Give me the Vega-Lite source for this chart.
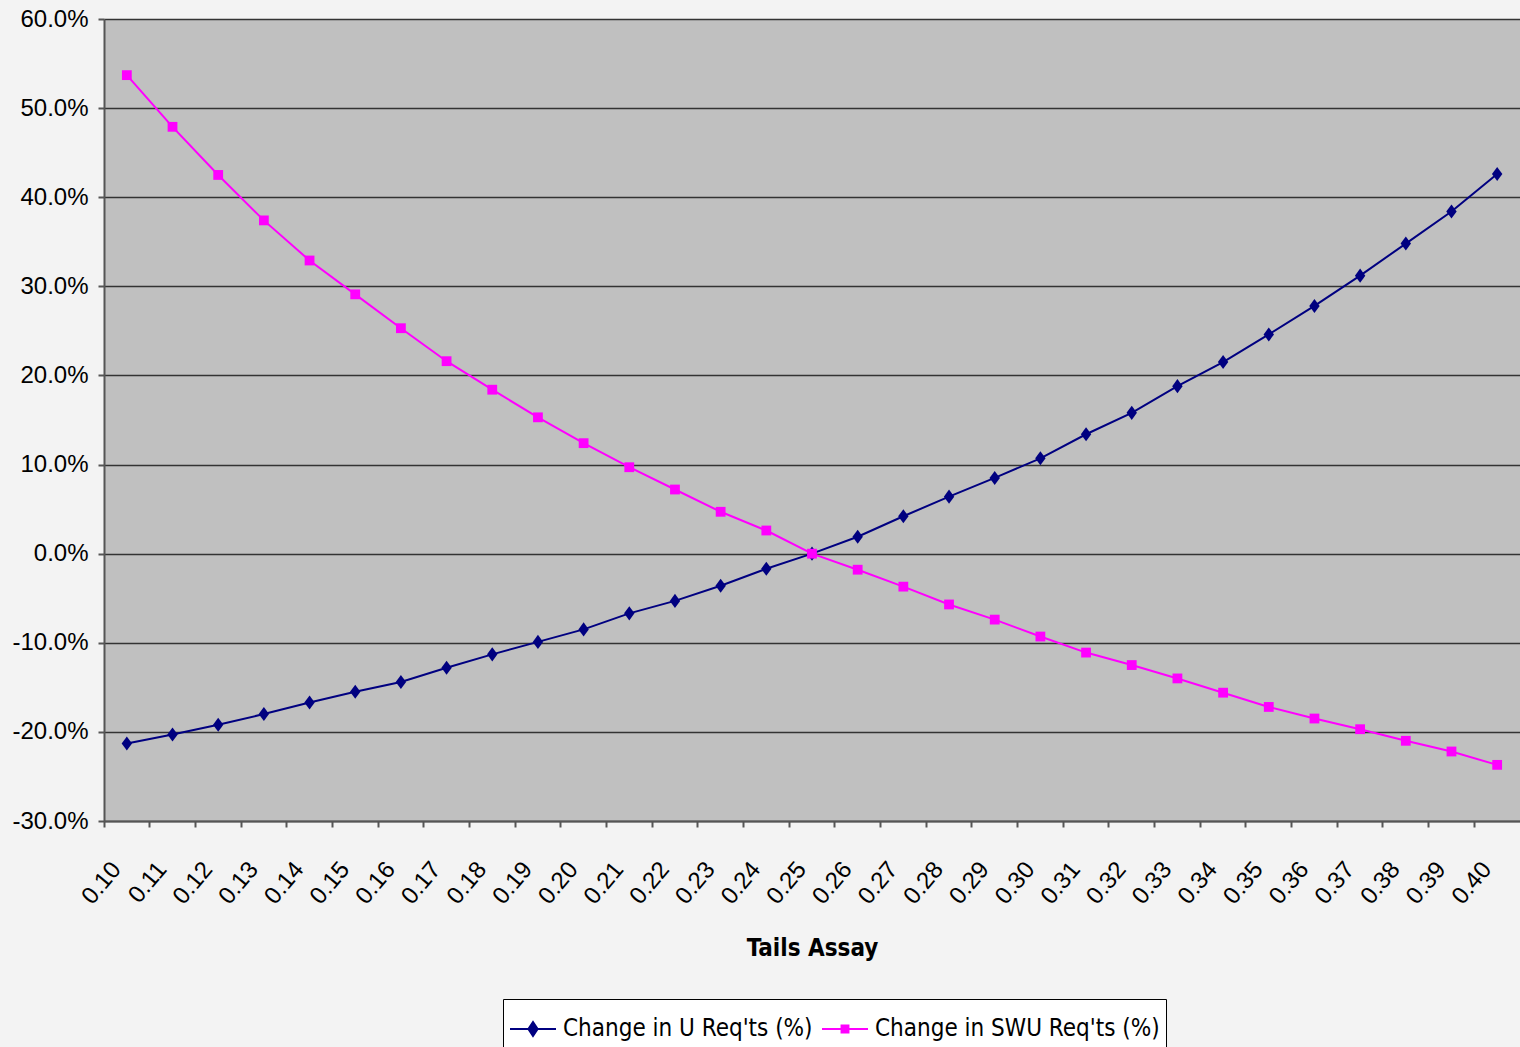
{
  "$schema": "https://vega.github.io/schema/vega-lite/v6.json",
  "width": 1416,
  "height": 802,
  "autosize": {"type": "none"},
  "padding": {"left": 104, "top": 19, "right": 0, "bottom": 226},
  "background": "#F3F3F3",
  "config": {
    "view": {"fill": "#C0C0C0", "stroke": null},
    "font": "Liberation Sans"
  },
  "data": {
    "values": [
      {"tails": "0.10", "series": "Change in U Req'ts (%)", "v": -0.213},
      {"tails": "0.11", "series": "Change in U Req'ts (%)", "v": -0.203},
      {"tails": "0.12", "series": "Change in U Req'ts (%)", "v": -0.192},
      {"tails": "0.13", "series": "Change in U Req'ts (%)", "v": -0.180},
      {"tails": "0.14", "series": "Change in U Req'ts (%)", "v": -0.167},
      {"tails": "0.15", "series": "Change in U Req'ts (%)", "v": -0.155},
      {"tails": "0.16", "series": "Change in U Req'ts (%)", "v": -0.144},
      {"tails": "0.17", "series": "Change in U Req'ts (%)", "v": -0.128},
      {"tails": "0.18", "series": "Change in U Req'ts (%)", "v": -0.113},
      {"tails": "0.19", "series": "Change in U Req'ts (%)", "v": -0.099},
      {"tails": "0.20", "series": "Change in U Req'ts (%)", "v": -0.085},
      {"tails": "0.21", "series": "Change in U Req'ts (%)", "v": -0.067},
      {"tails": "0.22", "series": "Change in U Req'ts (%)", "v": -0.053},
      {"tails": "0.23", "series": "Change in U Req'ts (%)", "v": -0.036},
      {"tails": "0.24", "series": "Change in U Req'ts (%)", "v": -0.017},
      {"tails": "0.25", "series": "Change in U Req'ts (%)", "v": 0.0},
      {"tails": "0.26", "series": "Change in U Req'ts (%)", "v": 0.019},
      {"tails": "0.27", "series": "Change in U Req'ts (%)", "v": 0.042},
      {"tails": "0.28", "series": "Change in U Req'ts (%)", "v": 0.064},
      {"tails": "0.29", "series": "Change in U Req'ts (%)", "v": 0.085},
      {"tails": "0.30", "series": "Change in U Req'ts (%)", "v": 0.107},
      {"tails": "0.31", "series": "Change in U Req'ts (%)", "v": 0.134},
      {"tails": "0.32", "series": "Change in U Req'ts (%)", "v": 0.158},
      {"tails": "0.33", "series": "Change in U Req'ts (%)", "v": 0.188},
      {"tails": "0.34", "series": "Change in U Req'ts (%)", "v": 0.215},
      {"tails": "0.35", "series": "Change in U Req'ts (%)", "v": 0.246},
      {"tails": "0.36", "series": "Change in U Req'ts (%)", "v": 0.278},
      {"tails": "0.37", "series": "Change in U Req'ts (%)", "v": 0.312},
      {"tails": "0.38", "series": "Change in U Req'ts (%)", "v": 0.348},
      {"tails": "0.39", "series": "Change in U Req'ts (%)", "v": 0.384},
      {"tails": "0.40", "series": "Change in U Req'ts (%)", "v": 0.426},
      {"tails": "0.10", "series": "Change in SWU Req'ts (%)", "v": 0.537},
      {"tails": "0.11", "series": "Change in SWU Req'ts (%)", "v": 0.479},
      {"tails": "0.12", "series": "Change in SWU Req'ts (%)", "v": 0.425},
      {"tails": "0.13", "series": "Change in SWU Req'ts (%)", "v": 0.374},
      {"tails": "0.14", "series": "Change in SWU Req'ts (%)", "v": 0.329},
      {"tails": "0.15", "series": "Change in SWU Req'ts (%)", "v": 0.291},
      {"tails": "0.16", "series": "Change in SWU Req'ts (%)", "v": 0.253},
      {"tails": "0.17", "series": "Change in SWU Req'ts (%)", "v": 0.216},
      {"tails": "0.18", "series": "Change in SWU Req'ts (%)", "v": 0.184},
      {"tails": "0.19", "series": "Change in SWU Req'ts (%)", "v": 0.153},
      {"tails": "0.20", "series": "Change in SWU Req'ts (%)", "v": 0.124},
      {"tails": "0.21", "series": "Change in SWU Req'ts (%)", "v": 0.097},
      {"tails": "0.22", "series": "Change in SWU Req'ts (%)", "v": 0.072},
      {"tails": "0.23", "series": "Change in SWU Req'ts (%)", "v": 0.047},
      {"tails": "0.24", "series": "Change in SWU Req'ts (%)", "v": 0.026},
      {"tails": "0.25", "series": "Change in SWU Req'ts (%)", "v": 0.0},
      {"tails": "0.26", "series": "Change in SWU Req'ts (%)", "v": -0.018},
      {"tails": "0.27", "series": "Change in SWU Req'ts (%)", "v": -0.037},
      {"tails": "0.28", "series": "Change in SWU Req'ts (%)", "v": -0.057},
      {"tails": "0.29", "series": "Change in SWU Req'ts (%)", "v": -0.074},
      {"tails": "0.30", "series": "Change in SWU Req'ts (%)", "v": -0.093},
      {"tails": "0.31", "series": "Change in SWU Req'ts (%)", "v": -0.111},
      {"tails": "0.32", "series": "Change in SWU Req'ts (%)", "v": -0.125},
      {"tails": "0.33", "series": "Change in SWU Req'ts (%)", "v": -0.140},
      {"tails": "0.34", "series": "Change in SWU Req'ts (%)", "v": -0.156},
      {"tails": "0.35", "series": "Change in SWU Req'ts (%)", "v": -0.172},
      {"tails": "0.36", "series": "Change in SWU Req'ts (%)", "v": -0.185},
      {"tails": "0.37", "series": "Change in SWU Req'ts (%)", "v": -0.197},
      {"tails": "0.38", "series": "Change in SWU Req'ts (%)", "v": -0.210},
      {"tails": "0.39", "series": "Change in SWU Req'ts (%)", "v": -0.222},
      {"tails": "0.40", "series": "Change in SWU Req'ts (%)", "v": -0.237}
    ]
  },
  "encoding": {
    "x": {
      "field": "tails",
      "type": "ordinal",
      "scale": {"type": "band", "paddingInner": 0, "paddingOuter": 0},
      "axis": {
        "title": "Tails Assay",
        "titleFont": "'DejaVu Sans Condensed', 'Liberation Sans', sans-serif",
        "titleFontWeight": "bold",
        "titleFontSize": 24,
        "titleColor": "#000000",
        "titleBaseline": "middle",
        "titleY": 127,
        "bandPosition": 0,
        "labelOffset": -10,
        "labelAngle": -50,
        "labelAlign": "right",
        "labelBaseline": "middle",
        "labelPadding": 38,
        "labelFont": "Liberation Sans",
        "labelFontSize": 24,
        "labelColor": "#000000",
        "labelOverlap": false,
        "tickSize": 6,
        "tickColor": "#555555",
        "tickWidth": 2,
        "domainColor": "#555555",
        "domainWidth": 2,
        "grid": false
      }
    },
    "y": {
      "field": "v",
      "type": "quantitative",
      "scale": {"domain": [-0.3, 0.6], "nice": false, "zero": false},
      "axis": {
        "title": null,
        "values": [-0.3, -0.2, -0.1, 0, 0.1, 0.2, 0.3, 0.4, 0.5, 0.6],
        "labelExpr": "replace(format(datum.value, '.1%'), '\u2212', '-')",
        "labelFont": "Liberation Sans",
        "labelFontSize": 24,
        "labelColor": "#000000",
        "labelPadding": 10,
        "tickSize": 6,
        "tickColor": "#555555",
        "tickWidth": 2,
        "domainColor": "#555555",
        "domainWidth": 2,
        "grid": true,
        "gridColor": "#333333",
        "gridWidth": 1.5,
        "gridOpacity": 1
      }
    }
  },
  "layer": [
    {
      "mark": {"type": "line", "strokeWidth": 2},
      "encoding": {
        "color": {
          "field": "series",
          "type": "nominal",
          "scale": {"domain": ["Change in U Req'ts (%)", "Change in SWU Req'ts (%)"], "range": ["#000080", "#FF00FF"]},
          "legend": null
        }
      }
    },
    {
      "mark": {"type": "point", "filled": true, "opacity": 1, "size": 150},
      "encoding": {
        "color": {
          "field": "series",
          "type": "nominal",
          "scale": {"domain": ["Change in U Req'ts (%)", "Change in SWU Req'ts (%)"], "range": ["#000080", "#FF00FF"]},
          "legend": null
        },
        "shape": {
          "field": "series",
          "type": "nominal",
          "scale": {"domain": ["Change in U Req'ts (%)", "Change in SWU Req'ts (%)"], "range": ["M0,-1.15L0.85,0L0,1.15L-0.85,0Z", "M-0.8,-0.8L0.8,-0.8L0.8,0.8L-0.8,0.8Z"]},
          "legend": null
        }
      }
    },
    {
      "transform": [{"filter": "false"}],
      "mark": {"type": "point", "filled": false, "opacity": 1, "strokeWidth": 2},
      "encoding": {
        "color": {
          "field": "series",
          "type": "nominal",
          "scale": {"domain": ["Change in U Req'ts (%)", "Change in SWU Req'ts (%)"], "range": ["#000080", "#FF00FF"]},
          "legend": {
            "title": null,
            "orient": "none",
            "legendX": 399,
            "legendY": 980,
            "direction": "horizontal",
            "padding": 6,
            "strokeColor": "#000000",
            "fillColor": "#FFFFFF",
            "symbolSize": 2116,
            "symbolStrokeWidth": 2,
            "symbolOpacity": 1,
            "labelFont": "'DejaVu Sans Condensed', 'Liberation Sans', sans-serif",
            "labelFontSize": 24,
            "labelColor": "#000000",
            "labelOffset": 6,
            "columnPadding": 5,
            "labelLimit": 0
          }
        },
        "shape": {
          "field": "series",
          "type": "nominal",
          "scale": {"domain": ["Change in U Req'ts (%)", "Change in SWU Req'ts (%)"], "range": ["M-1,0L1,0M-0.142,-0.087L0.142,-0.087M-0.142,0.087L0.142,0.087M-0.084,-0.174L0.084,-0.174M-0.084,0.174L0.084,0.174M0,-0.3L0.2,0L0,0.3L-0.2,0Z", "M-1,0L1,0M-0.15,-0.15L0.15,-0.15L0.15,0.15L-0.15,0.15ZM-0.15,-0.075L0.15,-0.075M-0.15,0.075L0.15,0.075"]},
          "legend": {
            "title": null,
            "orient": "none",
            "legendX": 399,
            "legendY": 980,
            "direction": "horizontal",
            "padding": 6,
            "strokeColor": "#000000",
            "fillColor": "#FFFFFF",
            "symbolSize": 2116,
            "symbolStrokeWidth": 2,
            "symbolOpacity": 1,
            "labelFont": "'DejaVu Sans Condensed', 'Liberation Sans', sans-serif",
            "labelFontSize": 24,
            "labelColor": "#000000",
            "labelOffset": 6,
            "columnPadding": 5,
            "labelLimit": 0
          }
        }
      }
    }
  ],
  "resolve": {"scale": {"shape": "independent", "color": "independent"}}
}
